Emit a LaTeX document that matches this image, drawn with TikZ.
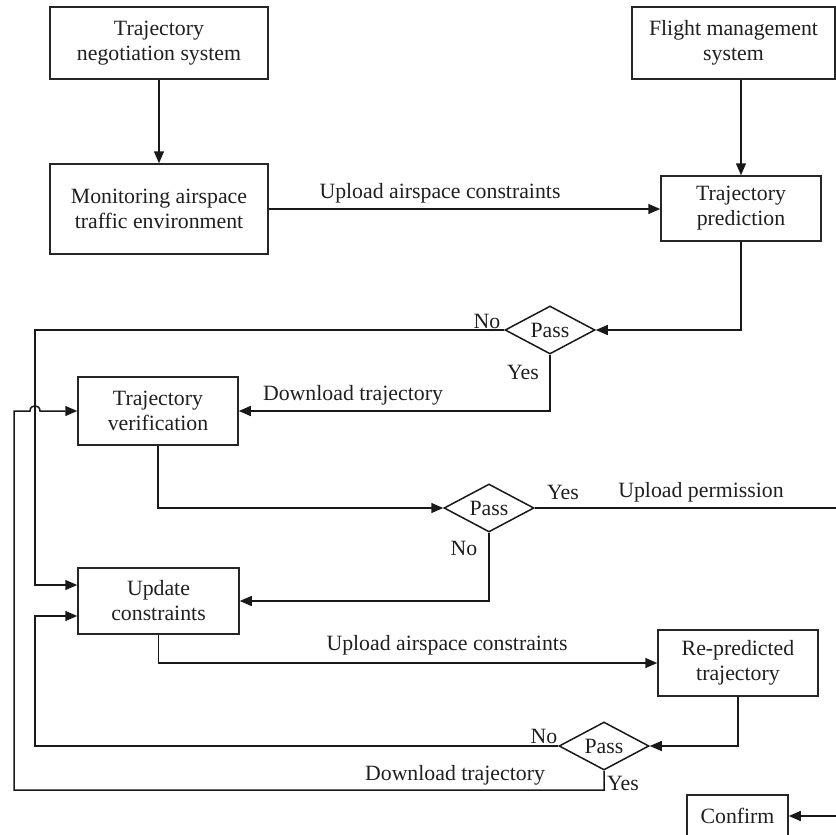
\documentclass[tikz,border=0pt]{standalone}
\usepackage{fontspec}
\setmainfont{Liberation Serif}
\usetikzlibrary{arrows.meta,shapes.geometric}
\begin{document}
\begin{tikzpicture}[x=1pt,y=-1pt,
  every node/.style={font=\fontsize{21.8}{25}\selectfont, text=black!88},
  block/.style={draw=black!85, line width=1.5pt, align=center, inner sep=0pt},
  test/.style={draw=black!90, line width=1.5pt, shape=diamond, aspect=1.9, inner sep=0pt,
    minimum width=90pt, minimum height=48pt},
  wire/.style={draw=black!90, line width=1.5pt},
  arr/.style={wire, -{Triangle[length=12pt,width=10pt]}},
  lbl/.style={inner sep=0pt}]
\useasboundingbox (0,0) rectangle (836,835);

% process blocks
\node[block, minimum width=218pt, minimum height=72pt] (tns) at (159,43) {Trajectory\\negotiation system};
\node[block, minimum width=218pt, minimum height=90pt] (mon) at (159,209) {Monitoring airspace\\traffic environment};
\node[block, minimum width=203pt, minimum height=72pt] (fms) at (733.5,43) {Flight management\\system};
\node[block, minimum width=160pt, minimum height=65pt] (tp) at (741,208.5) {Trajectory\\prediction};
\node[block, minimum width=160pt, minimum height=68pt] (tv) at (158,411) {Trajectory\\verification};
\node[block, minimum width=161pt, minimum height=66pt] (uc) at (158.5,601) {Update\\constraints};
\node[block, minimum width=160pt, minimum height=66pt] (rp) at (738,663) {Re-predicted\\trajectory};
\node[block, minimum width=101pt, minimum height=42pt] (cf) at (737.5,816) {Confirm};

% decision points
\node[test] (p1) at (550,330) {Pass};
\node[test] (p2) at (489,508) {Pass};
\node[test] (p3) at (604,746) {Pass};

% helper points for the routed connectors
\coordinate (a1) at (35,585);
\coordinate (a2) at (35,616);
\coordinate (b1) at (14,790);
\coordinate (b2) at (14,411);
\coordinate (h1) at (30,411);
\coordinate (h2) at (40,411);
\coordinate (e1) at (836,508);
\coordinate (e2) at (836,816);

% connectors
\draw[arr] (tns.south) -- (mon.north);
\draw[arr] (mon.east) -- (tp.west |- mon.east);
\draw[arr] (tp.north |- fms.south) -- (tp.north);
\draw[arr] (tp.south) |- (p1.east);
\draw[arr] (p1.south) |- (tv.east);
\draw[arr] (p1.west) -| (a1) -- (uc.west |- a1);
\draw[arr] (tv.south) |- (p2.west);
\draw[wire] (p2.east) -- (e1);
\draw[arr] (p2.south) |- (uc.east);
\draw[arr] (uc.south) |- (rp.west);
\draw[arr] (rp.south) |- (p3.east);
\draw[arr] (p3.west) -| (a2) -- (uc.west |- a2);
\draw[arr] (p3.south) |- (b1) -- (b2) -- (h1) .. controls (30,404) and (40,404) .. (h2) -- (tv.west);
\draw[arr] (e2) -- (cf.east);

% connector labels
\node[lbl] (t1) at (440,193) {Upload airspace constraints};
\node[lbl] (t2) at (487,321) {No};
\node[lbl] (t3) at (523,372) {Yes};
\node[lbl] (t4) at (353,395) {Download trajectory};
\node[lbl] (t5) at (563,492) {Yes};
\node[lbl] (t6) at (701,492) {Upload permission};
\node[lbl] (t7) at (464,548) {No};
\node[lbl] (t8) at (447,645) {Upload airspace constraints};
\node[lbl] (t9) at (544,736) {No};
\node[lbl] (t10) at (455,775) {Download trajectory};
\node[lbl] (t11) at (623,783) {Yes};
\end{tikzpicture}
\end{document}
